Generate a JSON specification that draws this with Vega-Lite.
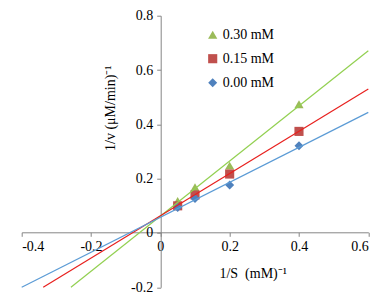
{
  "$schema": "https://vega.github.io/schema/vega-lite/v6.json",
  "autosize": {"type": "none"},
  "padding": {"left": 21.7, "top": 15.7, "right": 13.7, "bottom": 15.7},
  "width": 346.6,
  "height": 271.6,
  "background": "white",
  "config": {
    "view": {"stroke": null},
    "font": "Liberation Serif",
    "axis": {
      "grid": false,
      "domainColor": "#868686",
      "tickColor": "#868686",
      "tickSize": 4,
      "labelFont": "Liberation Serif",
      "labelFontSize": 14,
      "labelColor": "#000000",
      "titleFont": "Liberation Serif",
      "titleFontSize": 14,
      "titleFontWeight": "normal",
      "titleColor": "#000000"
    }
  },
  "datasets": {
    "pts": [
      {"s": "0.30 mM", "x": 0.05, "y": 0.118},
      {"s": "0.30 mM", "x": 0.1, "y": 0.168},
      {"s": "0.30 mM", "x": 0.2, "y": 0.248},
      {"s": "0.30 mM", "x": 0.4, "y": 0.474},
      {"s": "0.15 mM", "x": 0.05, "y": 0.1},
      {"s": "0.15 mM", "x": 0.1, "y": 0.14},
      {"s": "0.15 mM", "x": 0.2, "y": 0.217},
      {"s": "0.15 mM", "x": 0.4, "y": 0.374},
      {"s": "0.00 mM", "x": 0.05, "y": 0.094},
      {"s": "0.00 mM", "x": 0.1, "y": 0.127},
      {"s": "0.00 mM", "x": 0.2, "y": 0.177},
      {"s": "0.00 mM", "x": 0.4, "y": 0.321}
    ],
    "lines": [
      {"s": "0.30 mM", "x": -0.258, "y": -0.2},
      {"s": "0.30 mM", "x": 0.6, "y": 0.671},
      {"s": "0.15 mM", "x": -0.338, "y": -0.2},
      {"s": "0.15 mM", "x": 0.6, "y": 0.53},
      {"s": "0.00 mM", "x": -0.4, "y": -0.2},
      {"s": "0.00 mM", "x": 0.6, "y": 0.444}
    ]
  },
  "encoding": {
    "x": {
      "field": "x", "type": "quantitative",
      "scale": {"domain": [-0.4, 0.6], "nice": false, "zero": false},
      "axis": {
        "values": [-0.4, -0.2, 0, 0.2, 0.4, 0.6],
        "offset": -55,
        "labelPadding": 3,
        "labelExpr": "datum.value == 0 ? '0' : (datum.value < 0 ? '-' + format(-datum.value, '.1f') : format(datum.value, '.1f'))",
        "title": "1/S\u00a0 (mM)⁻¹",
        "titleX": 231,
        "titleY": 34
      }
    },
    "y": {
      "field": "y", "type": "quantitative",
      "scale": {"domain": [-0.2, 0.8], "nice": false, "zero": false},
      "axis": {
        "values": [-0.2, 0, 0.2, 0.4, 0.6, 0.8],
        "offset": -139,
        "labelPadding": 4,
        "labelExpr": "datum.value == 0 ? '0' : (datum.value < 0 ? '-' + format(-datum.value, '.1f') : format(datum.value, '.1f'))",
        "title": "1/v (μM/min)⁻¹",
        "titleX": -43.7,
        "titleY": 92
      }
    }
  },
  "layer": [
    {
      "data": {"name": "pts"},
      "mark": {"type": "point", "filled": true, "opacity": 1, "size": 81},
      "encoding": {
        "color": {
          "field": "s", "type": "nominal",
          "scale": {"domain": ["0.30 mM", "0.15 mM", "0.00 mM"], "range": ["#9BBB59", "#C0504D", "#4F81BD"]},
          "legend": {
            "title": null,
            "orient": "none",
            "legendX": 184,
            "legendY": 12,
            "padding": 0,
            "labelFont": "Liberation Serif",
            "labelFontSize": 14,
            "labelColor": "#000000",
            "labelOffset": 3,
            "rowPadding": 10,
            "symbolSize": 70,
            "symbolStrokeWidth": 0
          }
        },
        "shape": {
          "field": "s", "type": "nominal",
          "scale": {"domain": ["0.30 mM", "0.15 mM", "0.00 mM"], "range": ["triangle-up", "square", "diamond"]},
          "legend": {
            "title": null,
            "orient": "none",
            "legendX": 184,
            "legendY": 12,
            "padding": 0,
            "labelFont": "Liberation Serif",
            "labelFontSize": 14,
            "labelOffset": 3,
            "rowPadding": 10,
            "symbolSize": 70
          }
        },
        "size": {
          "field": "s", "type": "nominal",
          "scale": {"domain": ["0.30 mM", "0.15 mM", "0.00 mM"], "range": [85, 81, 55]},
          "legend": null
        }
      }
    },
    {
      "data": {"name": "lines"},
      "mark": {"type": "line", "strokeWidth": 1.2},
      "encoding": {
        "stroke": {
          "field": "s", "type": "nominal",
          "scale": {"domain": ["0.30 mM", "0.15 mM", "0.00 mM"], "range": ["#92D050", "#E8201E", "#5B9BD5"]},
          "legend": null
        },
        "detail": {"field": "s"}
      }
    }
  ]
}
